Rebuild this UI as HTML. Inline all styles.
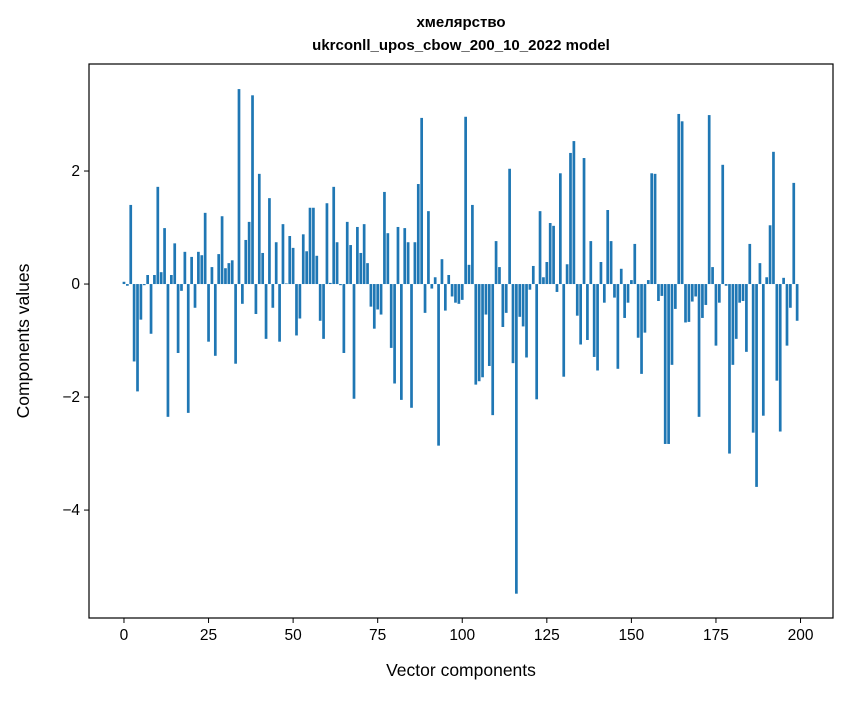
<!DOCTYPE html>
<html><head><meta charset="utf-8"><style>
body{margin:0;background:#fff;}
svg text{font-family:"Liberation Sans","DejaVu Sans",sans-serif;fill:#000;}
</style></head><body>
<svg id="chart" width="847" height="696" xmlns="http://www.w3.org/2000/svg">
<rect width="847" height="696" fill="#fff"/>
<text x="461" y="27" text-anchor="middle" font-size="15" font-weight="bold">хмелярство</text>
<text x="461" y="50" text-anchor="middle" font-size="15" font-weight="bold">ukrconll_upos_cbow_200_10_2022 model</text>
<g id="bars"></g>
<g id="xticks"></g>
<g id="yticks"></g>
<rect x="89" y="64" width="744" height="554" fill="none" stroke="#000" stroke-width="1.2"/>
<text x="461" y="676" text-anchor="middle" font-size="17.5">Vector components</text>
<text transform="translate(29,341) rotate(-90)" text-anchor="middle" font-size="17.5">Components values</text>
</svg>
<script>
const values = [0.04,-0.03,1.40,-1.37,-1.90,-0.63,-0.02,0.16,-0.88,0.16,
1.72,0.21,0.99,-2.35,0.16,0.72,-1.22,-0.12,0.57,-2.28,
0.48,-0.42,0.57,0.51,1.26,-1.02,0.30,-1.27,0.53,1.20,
0.28,0.37,0.42,-1.41,3.45,-0.35,0.78,1.10,3.34,-0.53,
1.95,0.55,-0.97,1.52,-0.42,0.74,-1.02,1.06,0.01,0.85,
0.64,-0.91,-0.61,0.88,0.58,1.35,1.35,0.50,-0.65,-0.97,
1.43,0.02,1.72,0.74,-0.02,-1.22,1.10,0.69,-2.03,1.01,
0.55,1.06,0.37,-0.40,-0.79,-0.45,-0.54,1.63,0.90,-1.13,
-1.76,1.01,-2.05,0.99,0.74,-2.19,0.74,1.77,2.94,-0.51,
1.29,-0.08,0.12,-2.86,0.44,-0.47,0.16,-0.22,-0.33,-0.35,
-0.28,2.96,0.34,1.40,-1.78,-1.72,-1.65,-0.54,-1.45,-2.32,
0.76,0.30,-0.76,-0.51,2.04,-1.40,-5.48,-0.58,-0.75,-1.30,
-0.10,0.32,-2.04,1.29,0.12,0.39,1.08,1.03,-0.14,1.96,
-1.64,0.35,2.32,2.53,-0.56,-1.07,2.23,-0.99,0.76,-1.29,
-1.53,0.39,-0.33,1.31,0.76,-0.24,-1.50,0.27,-0.60,-0.33,
0.07,0.71,-0.95,-1.59,-0.86,0.07,1.96,1.95,-0.30,-0.21,
-2.83,-2.83,-1.43,-0.44,3.01,2.88,-0.68,-0.67,-0.31,-0.22,
-2.35,-0.60,-0.37,2.99,0.30,-1.09,-0.33,2.11,-0.03,-3.00,
-1.43,-0.97,-0.33,-0.30,-1.20,0.71,-2.63,-3.59,0.37,-2.33,
0.12,1.04,2.34,-1.71,-2.61,0.11,-1.09,-0.42,1.79,-0.65];
const xTicks = [0,25,50,75,100,125,150,175,200];
const yTicks = [-4,-2,0,2];
const xMin=-10.34, xMax=209.6, yMin=-5.91, yMax=3.894;
const L=89,R=833,T=64,B=618;
function xs(v){return L+(v-xMin)/(xMax-xMin)*(R-L);}
function ys(v){return B-(v-yMin)/(yMax-yMin)*(B-T);}
const NS="http://www.w3.org/2000/svg";
const bars=document.getElementById('bars');
values.forEach((v,i)=>{
  const r=document.createElementNS(NS,'rect');
  const x0=xs(i-0.4), x1=xs(i+0.4);
  const y0=ys(Math.max(v,0)), y1=ys(Math.min(v,0));
  r.setAttribute('x',x0);r.setAttribute('width',x1-x0);
  r.setAttribute('y',y0);r.setAttribute('height',Math.max(y1-y0,0.3));
  r.setAttribute('fill','#1f77b4');
  
  
  bars.appendChild(r);
});
const xg=document.getElementById('xticks');
xTicks.forEach(t=>{
  const l=document.createElementNS(NS,'line');
  l.setAttribute('x1',xs(t));l.setAttribute('x2',xs(t));l.setAttribute('y1',B);l.setAttribute('y2',B+5);
  l.setAttribute('stroke','#000');
  
  
  xg.appendChild(l);
  const tx=document.createElementNS(NS,'text');
  tx.setAttribute('x',xs(t));tx.setAttribute('y',B+22);tx.setAttribute('text-anchor','middle');tx.setAttribute('font-size','15.5');
  tx.textContent=t;
  
  
  xg.appendChild(tx);
});
const yg=document.getElementById('yticks');
yTicks.forEach(t=>{
  const l=document.createElementNS(NS,'line');
  l.setAttribute('x1',L-5);l.setAttribute('x2',L);l.setAttribute('y1',ys(t));l.setAttribute('y2',ys(t));
  l.setAttribute('stroke','#000');
  
  
  yg.appendChild(l);
  const tx=document.createElementNS(NS,'text');
  tx.setAttribute('x',L-9);tx.setAttribute('y',ys(t)+5);tx.setAttribute('text-anchor','end');tx.setAttribute('font-size','15.5');
  tx.textContent=t<0?'\u2212'+Math.abs(t):String(t);
  
  
  yg.appendChild(tx);
});
</script>
</body></html>
